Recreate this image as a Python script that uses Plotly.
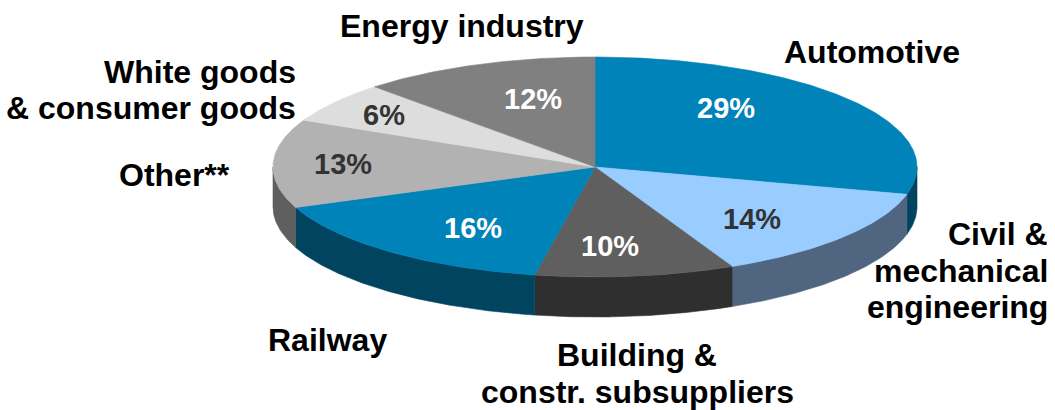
import numpy as np
import plotly.graph_objects as go

# ---------------- data ----------------
categories = ["Automotive", "Civil & mechanical engineering", "Building & constr. subsuppliers",
              "Railway", "Other**", "White goods & consumer goods", "Energy industry"]
shares = [29, 14, 10, 16, 13, 6, 12]
pct_labels = ["29%", "14%", "10%", "16%", "13%", "6%", "12%"]

# ---------------- styles ----------------
top_colors = ["#0083B8", "#99CCFF", "#5F5F5F", "#0083B8", "#B2B2B2", "#DDDDDD", "#808080"]
side_colors = ["#00445F", "#4F6580", "#2F2F2F", "#00445F", "#5F5F5F", "#A8A8A8", "#555555"]
pct_colors = ["white", "#333333", "white", "white", "#333333", "#333333", "white"]

W, H = 1055, 410
CX, CY, RX, RY, DEPTH = 595, 167, 322, 110, 40
FONT = "Liberation Sans, Arial, sans-serif"

# label layout (text lines, anchor x, y, xanchor)
pct_pos = [(726, 108), (752, 219), (610, 246), (473, 228), (343, 164), (384, 115), (533, 99)]
cat_lines = [
    ("Automotive", 872, 52, "center"),
    ("Civil &", 1050, 234, "right"),
    ("mechanical", 1050, 271, "right"),
    ("engineering", 1050, 307, "right"),
    ("Building &", 637, 355, "center"),
    ("constr. subsuppliers", 637, 392, "center"),
    ("Railway", 327, 340, "center"),
    ("Other**", 232, 175, "right"),
    ("White goods", 298, 72, "right"),
    ("& consumer goods", 298, 108, "right"),
    ("Energy industry", 462, 26, "center"),
]


def ell(theta_deg, dy=0.0):
    t = np.radians(theta_deg)
    return CX + RX * np.sin(t), CY - RY * np.cos(t) + dy


fractions = np.array(shares, dtype=float) / sum(shares)
ends = np.cumsum(fractions) * 360.0
starts = ends - fractions * 360.0

fig = go.Figure()

# side walls (front half only: 90..270 degrees clockwise from top)
for i in range(len(shares)):
    a, b = max(starts[i], 90.0), min(ends[i], 270.0)
    if b <= a:
        continue
    th = np.linspace(a, b, 120)
    xt, yt = ell(th)
    xb, yb = ell(th[::-1], DEPTH)
    xs = np.concatenate([xt, xb, xt[:1]])
    ys = np.concatenate([yt, yb, yt[:1]])
    fig.add_trace(go.Scatter(x=xs, y=ys, mode="lines", fill="toself",
                             fillcolor=side_colors[i],
                             line=dict(color=side_colors[i], width=0.6),
                             hoverinfo="skip", showlegend=False))

# top faces
for i in range(len(shares)):
    th = np.linspace(starts[i], ends[i], max(int(fractions[i] * 720), 20))
    xt, yt = ell(th)
    xs = np.concatenate([[CX], xt, [CX]])
    ys = np.concatenate([[CY], yt, [CY]])
    fig.add_trace(go.Scatter(x=xs, y=ys, mode="lines", fill="toself",
                             fillcolor=top_colors[i],
                             line=dict(color=top_colors[i], width=0.6),
                             name=categories[i], hoverinfo="name", showlegend=False))

annotations = []
for (x, y), txt, col in zip(pct_pos, pct_labels, pct_colors):
    annotations.append(dict(x=x, y=y, xref="x", yref="y", text=f"<b>{txt}</b>",
                            showarrow=False, xanchor="center", yanchor="middle",
                            font=dict(family=FONT, size=29, color=col)))
for txt, x, y, xa in cat_lines:
    annotations.append(dict(x=x, y=y, xref="x", yref="y", text=f"<b>{txt}</b>",
                            showarrow=False, xanchor=xa, yanchor="middle",
                            font=dict(family=FONT, size=32, color="#000000")))

fig.update_layout(
    width=W, height=H, autosize=False,
    margin=dict(l=0, r=0, t=0, b=0, pad=0),
    paper_bgcolor="white", plot_bgcolor="white",
    xaxis=dict(range=[0, W], visible=False, fixedrange=True),
    yaxis=dict(range=[H, 0], visible=False, fixedrange=True),
    annotations=annotations,
)

fig.write_html("out.html", config={"displayModeBar": False},
               post_script="document.body.style.margin='0';document.body.style.overflow='hidden';")
